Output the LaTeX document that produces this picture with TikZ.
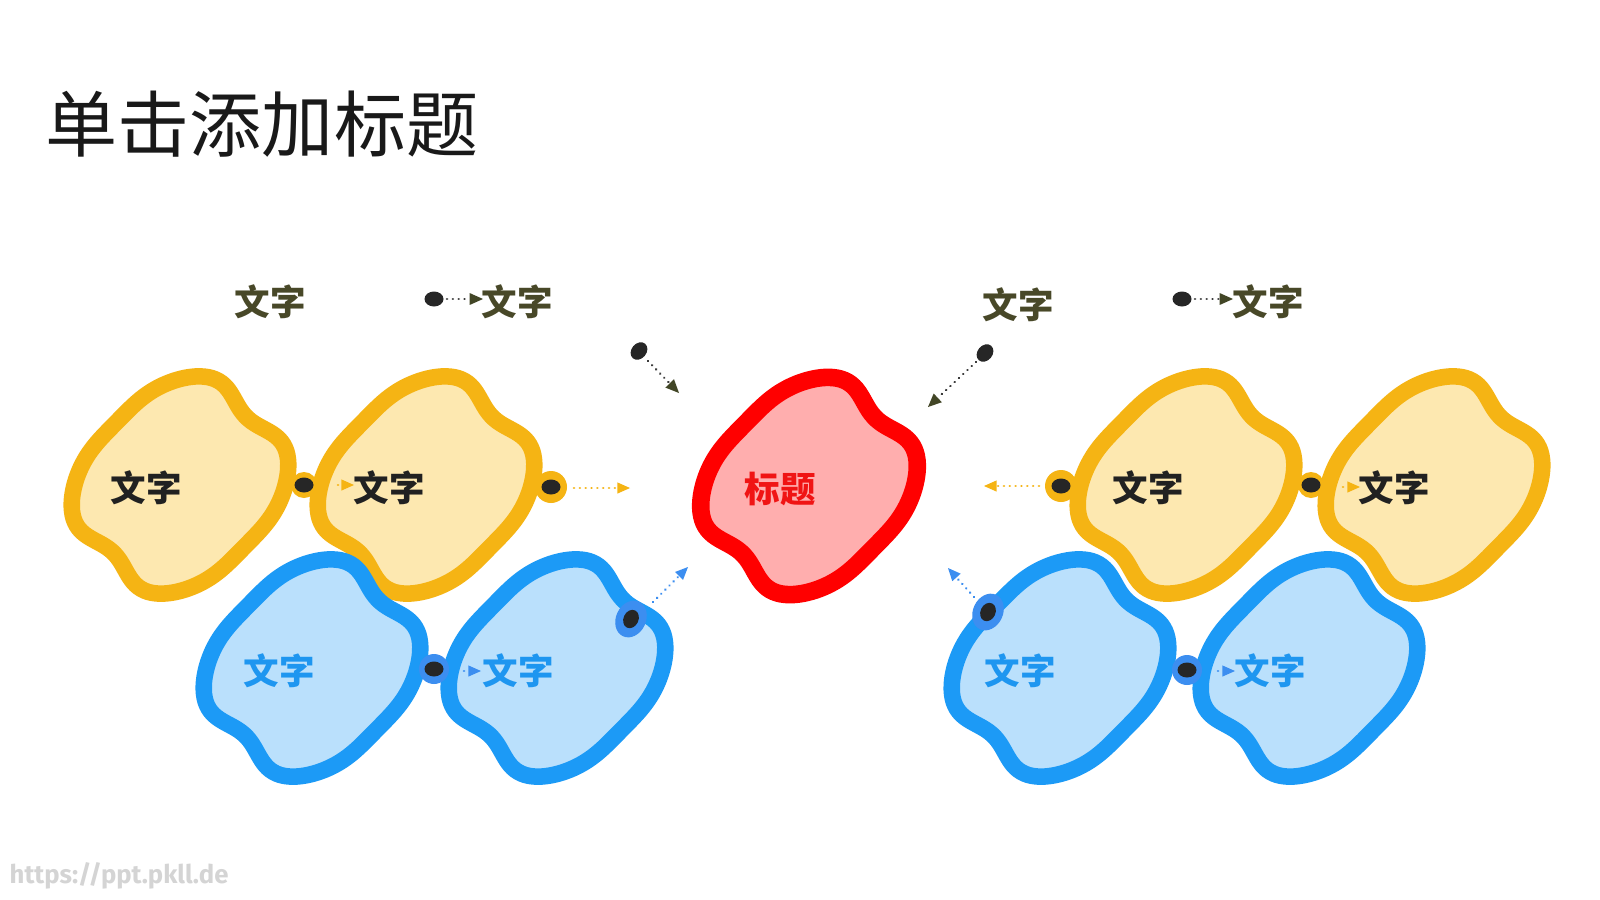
\documentclass[tikz,border=0pt]{standalone}
\usepackage{fontspec}
\newfontfamily\cjk{Noto Sans CJK SC}
\newfontfamily\wmfont{Fira Sans}
\usetikzlibrary{arrows.meta}
\definecolor{ystroke}{RGB}{245,180,20}
\definecolor{yfill}{RGB}{253,232,176}
\definecolor{bstroke}{RGB}{28,154,246}
\definecolor{bfill}{RGB}{186,224,252}
\definecolor{bbead}{RGB}{60,142,240}
\definecolor{rstroke}{RGB}{255,0,0}
\definecolor{rfill}{RGB}{255,174,174}
\definecolor{dotdark}{RGB}{38,38,38}
\definecolor{olive}{RGB}{66,70,38}
\definecolor{olivetext}{RGB}{72,72,40}
\definecolor{btext}{RGB}{30,150,240}
\definecolor{rtext}{RGB}{240,20,20}
\definecolor{wm}{RGB}{212,212,212}
\tikzset{declare function={
  su(\t)=125*cos(\t);
  sv(\t)=94*sin(\t);
}}
\newcommand\blobshape[3]{%
  \begin{scope}[shift={(#1,#2)},rotate=45.5]
    \draw[#3] plot[smooth cycle,domain=1.25:358.75,samples=144,variable=\t]
      ({su(\t)*(1-0.24*exp(-(sv(\t)/42)*(sv(\t)/42)))},
       {sv(\t)*(1-0.05*exp(-(su(\t)/40)*(su(\t)/40)))});
  \end{scope}}
\tikzset{
  yblob/.style={draw=ystroke,fill=yfill,line width=4.7pt,line join=round},
  bblob/.style={draw=bstroke,fill=bstroke,fill opacity=0.3,draw opacity=1,line width=4.7pt,line join=round},
  bblobsolid/.style={draw=bstroke,fill=bfill,line width=4.7pt,line join=round},
  rblob/.style={draw=rstroke,fill=rfill,line width=5.0pt,line join=round},
  lbl/.style={font=\cjk\bfseries\fontsize{10.1pt}{12pt}\selectfont,inner sep=0pt},
  dotline/.style={line width=0.75pt,line cap=round,dash pattern=on 0.01pt off 1.65pt},
  yarrow/.style={dotline,draw=ystroke,-{Triangle[length=3.6pt,width=3.2pt,fill=ystroke,line width=0pt]}},
  barrow/.style={dotline,draw=bbead,-{Triangle[length=3.6pt,width=3.2pt,fill=bbead,line width=0pt]}},
  darrow/.style={dotline,draw=dotdark!90,-{Triangle[length=3.8pt,width=3.4pt,fill=olive,line width=0pt]}},
  darkdot/.style={fill=dotdark},
}
\begin{document}
\begin{tikzpicture}[x=0.01cm,y=-0.01cm]
\fill[white] (0,0) rectangle (1600,900);
\useasboundingbox (0,0) rectangle (1600,900);

% title
\node[anchor=west,font=\cjk\fontsize{20.5pt}{24pt}\selectfont,inner sep=0pt,text=black!90] (title) at (45,124) {单击添加标题};

% ---------- left group ----------
\blobshape{180}{485}{yblob}
\blobshape{426}{485}{yblob}
\blobshape{312}{668}{bblob}
\blobshape{557}{668}{bblob}
% ---------- centre ----------
\blobshape{809}{486}{rblob}
% ---------- right group ----------
\blobshape{1060}{668}{bblobsolid}
\blobshape{1309}{668}{bblobsolid}
\blobshape{1186}{485}{yblob}
\blobshape{1434}{485}{yblob}

% beads (coordinates)
\coordinate (yb1) at (304,485);
\coordinate (yb2) at (551,487);
\coordinate (bb1) at (434,669);
\coordinate (bb2) at (631,619);
\coordinate (yb3) at (1061,486);
\coordinate (yb4) at (1311,485);
\coordinate (bb3) at (988,612);
\coordinate (bb4) at (1187,670);
\coordinate (td1) at (639,351);
\coordinate (td2) at (985,353);
\coordinate (tr1) at (434,299);
\coordinate (tr2) at (1182,299);

\fill[ystroke] (yb1) circle (13);
\fill[ystroke] (yb2) circle (16);
\fill[ystroke] (yb3) circle (16);
\fill[ystroke] (yb4) circle (13);
\fill[bbead] (bb1) circle (15);
\fill[bbead] (bb4) circle (15);
\fill[bbead,rotate around={-25:(bb2)}] (bb2) ellipse (15 and 19);
\fill[bbead,rotate around={-25:(bb3)}] (bb3) ellipse (15 and 19);

\foreach \p in {yb1,yb2,yb3,yb4,bb1,bb4,tr1,tr2}{
  \fill[darkdot] (\p) ellipse (9.5 and 7.5);
}
\fill[darkdot,rotate around={-25:(bb2)}] (bb2) ellipse (7.5 and 9.5);
\fill[darkdot,rotate around={-25:(bb3)}] (bb3) ellipse (7.5 and 9.5);
\fill[darkdot,rotate around={50:(td1)}] (td1) ellipse (9.5 and 7.5);
\fill[darkdot,rotate around={50:(td2)}] (td2) ellipse (9.5 and 7.5);

% arrow end coordinates
\coordinate (a1s) at (574,488);  \coordinate (a1e) at (630,488);
\coordinate (a2s) at (338,485);  \coordinate (a2e) at (354,485);
\coordinate (a3s) at (464,671);  \coordinate (a3e) at (481,671);
\coordinate (a4s) at (653,602);  \coordinate (a4e) at (688,567);
\coordinate (a5s) at (1039,486); \coordinate (a5e) at (984,486);
\coordinate (a6s) at (1343,487); \coordinate (a6e) at (1360,487);
\coordinate (a7s) at (1218,671); \coordinate (a7e) at (1235,671);
\coordinate (a8s) at (974,597);  \coordinate (a8e) at (948,568);
\coordinate (a9s) at (648,361);  \coordinate (a9e) at (679,393);
\coordinate (a10s) at (976,362); \coordinate (a10e) at (928,407);
\coordinate (a11s) at (447,299); \coordinate (a11e) at (483,299);
\coordinate (a12s) at (1195,299); \coordinate (a12e) at (1233,299);

\draw[yarrow] (a1s) -- (a1e);
\draw[yarrow] (a2s) -- (a2e);
\draw[yarrow] (a5s) -- (a5e);
\draw[yarrow] (a6s) -- (a6e);
\draw[barrow] (a3s) -- (a3e);
\draw[barrow] (a4s) -- (a4e);
\draw[barrow] (a7s) -- (a7e);
\draw[barrow] (a8s) -- (a8e);
\draw[darrow] (a9s) -- (a9e);
\draw[darrow] (a10s) -- (a10e);
\draw[darrow] (a11s) -- (a11e);
\draw[darrow] (a12s) -- (a12e);

% labels
\node[lbl,text=black!87] (ly1) at (146,488) {文字};
\node[lbl,text=black!87] (ly2) at (389,488) {文字};
\node[lbl,text=btext] (lb1) at (279,671) {文字};
\node[lbl,text=btext] (lb2) at (518,671) {文字};
\node[lbl,text=rtext] (lr) at (780,489) {标题};
\node[lbl,text=black!87] (ly3) at (1148,488) {文字};
\node[lbl,text=black!87] (ly4) at (1394,488) {文字};
\node[lbl,text=btext] (lb3) at (1020,671) {文字};
\node[lbl,text=btext] (lb4) at (1270,671) {文字};
\node[lbl,text=olivetext] (lt1) at (270,302) {文字};
\node[lbl,text=olivetext] (lt2) at (517,302) {文字};
\node[lbl,text=olivetext] (lt3) at (1018,305) {文字};
\node[lbl,text=olivetext] (lt4) at (1268,302) {文字};

% watermark
\node[anchor=west,font=\wmfont\bfseries\fontsize{7.3pt}{8pt}\selectfont,text=wm,inner sep=0pt] (wmk) at (9,876) {https://ppt.pkll.de};
\end{tikzpicture}
\end{document}
